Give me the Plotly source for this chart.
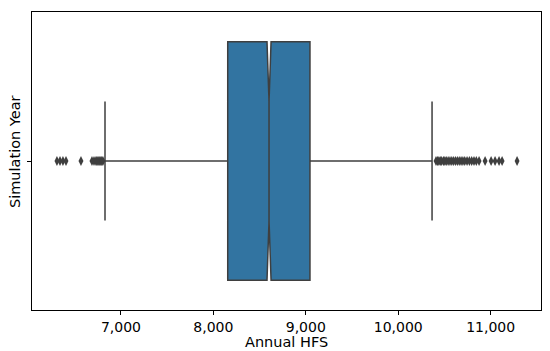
import plotly.graph_objects as go

# Box statistics (Annual HFS)
q1 = [8155]
median = [8602]
q3 = [9045]
lower_fence = [6827]
upper_fence = [10366]
notch_span = [22]
box_pos = [0]

# Outliers
outliers_low = [6307, 6340, 6372, 6405, 6567, 6686, 6708, 6729, 6740, 6751,
                6762, 6773, 6784, 6794, 6805]
outliers_high = [10409, 10425, 10440, 10455, 10470, 10490, 10505, 10520, 10540,
                 10560, 10580, 10600, 10620, 10640, 10660, 10680, 10700, 10720,
                 10745, 10770, 10795, 10820, 10845, 10875, 10940, 11005, 11048,
                 11091, 11124, 11286]

tick_vals = [7000, 8000, 9000, 10000, 11000]

x_title = "Annual HFS"
y_title = "Simulation Year"

line_col = "#3f3f3f"
fill_col = "#3274a1"

fig = go.Figure()
fig.add_trace(go.Box(
    orientation="h",
    y=box_pos,
    q1=q1, median=median, q3=q3,
    lowerfence=lower_fence, upperfence=upper_fence,
    notchspan=notch_span,
    notched=True, notchwidth=0.25,
    width=0.8, whiskerwidth=0.5,
    fillcolor=fill_col,
    line=dict(color=line_col, width=1.5),
    boxpoints=False,
    showlegend=False,
    hoverinfo="skip",
))
out = outliers_low + outliers_high
fig.add_trace(go.Scatter(
    x=out, y=[box_pos[0]] * len(out),
    mode="markers",
    marker=dict(symbol="diamond-tall", size=7, color=line_col, line=dict(width=0)),
    showlegend=False,
))

fig.update_layout(
    width=550, height=351,
    margin=dict(l=32, r=9, t=12, b=41),
    paper_bgcolor="white", plot_bgcolor="white",
    font=dict(family="DejaVu Sans", size=14, color="black"),
    xaxis=dict(
        range=[6037, 11545], automargin=False,
        tickvals=tick_vals, tickformat=",d",
        ticks="outside", ticklen=4, tickwidth=1, tickcolor="black",
        showline=True, linecolor="black", linewidth=1, mirror=True,
        showgrid=False, zeroline=False,
        tickfont=dict(size=14),
    ),
    yaxis=dict(
        range=[0.5, -0.5], automargin=False,
        tickvals=[0], ticktext=[""],
        ticks="outside", ticklen=4, tickwidth=1, tickcolor="black",
        showline=True, linecolor="black", linewidth=1, mirror=True,
        showgrid=False, zeroline=False,
    ),
    annotations=[
        dict(text=x_title, xref="paper", yref="paper", x=0.5, y=0,
             yshift=-32, xanchor="center", yanchor="middle",
             showarrow=False, font=dict(size=14.5)),
        dict(text=y_title, xref="paper", yref="paper", x=0, y=0.5,
             xshift=-17, yshift=9, xanchor="center", yanchor="middle",
             textangle=-90, showarrow=False, font=dict(size=14.5)),
    ],
)

fig.write_html("out.html", config={"displayModeBar": False},
               post_script="document.body.style.margin='0';document.body.style.overflow='hidden';")
